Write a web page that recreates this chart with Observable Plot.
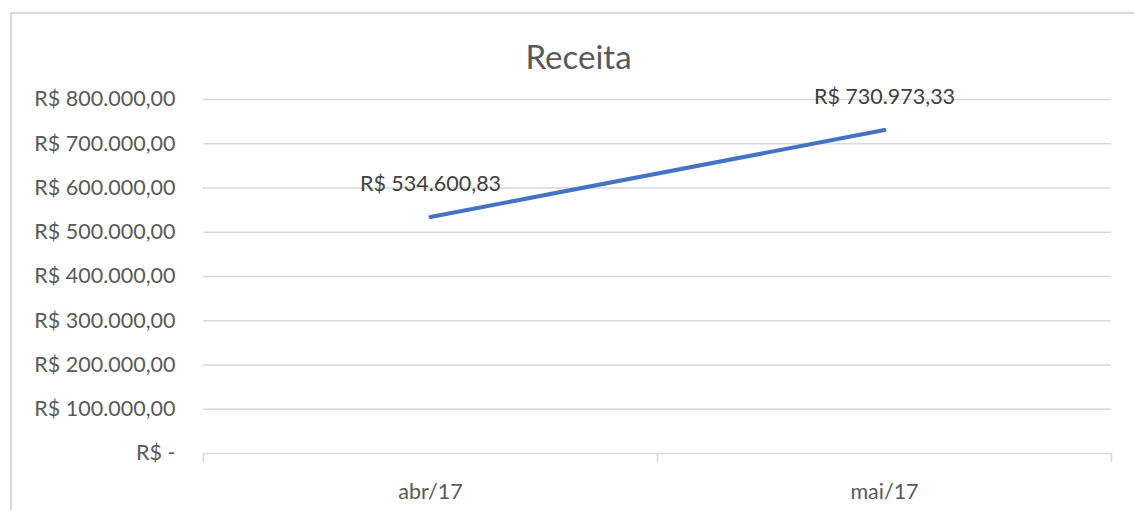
<!DOCTYPE html>
<html><head><meta charset="utf-8">
<script src="https://cdn.jsdelivr.net/npm/d3@7"></script>
<script src="https://cdn.jsdelivr.net/npm/@observablehq/plot@0.6"></script>
<style>
body{margin:0;background:#fff;}
#wrap{position:relative;width:1134px;height:510px;overflow:hidden;background:#fff;}
#border{position:absolute;left:10px;top:12px;right:-5px;bottom:-5px;border-left:2px solid #d9d9d9;border-top:2px solid #d9d9d9;}
#chart{position:absolute;left:0;top:0;}
</style></head><body>
<div id="wrap"><div id="border"></div><div id="chart"></div></div>
<script>
const title = "Receita";
const months = ["abr/17", "mai/17"];
const receita = [534600.83, 730973.33];
const yTicks = [0, 100000, 200000, 300000, 400000, 500000, 600000, 700000, 800000];

const data = months.map((m, i) => ({month: m, pos: i + 0.5, value: receita[i]}));
const loc = d3.formatLocale({decimal: ",", thousands: ".", grouping: [3], currency: ["R$ ", ""]});
const fmt = loc.format("$,.2f");
const yFmt = v => v === 0 ? "R$ -" : fmt(v);

const chart = Plot.plot({
  width: 1134, height: 510,
  marginLeft: 203, marginRight: 23, marginTop: 99, marginBottom: 57,
  style: {fontFamily: "Lato, 'Liberation Sans', sans-serif", fontSize: "21px", color: "#595959", background: "transparent", overflow: "visible"},
  x: {type: "linear", domain: [0, months.length], axis: null},
  y: {domain: [0, 800000], axis: null},
  marks: [
    Plot.gridY(yTicks.filter(d => d > 0), {stroke: "#d9d9d9", strokeOpacity: 1, strokeWidth: 1.5}),
    Plot.ruleY([0], {stroke: "#d9d9d9", strokeWidth: 1.5}),
    Plot.axisY(yTicks, {tickSize: 0, tickPadding: 28, tickFormat: yFmt, fontSize: 21.5, fill: "#595959", label: null}),
    Plot.axisX(d3.range(months.length + 1), {tickSize: 9, tickFormat: () => "", stroke: "#d9d9d9", strokeWidth: 1.5, label: null}),
    Plot.axisX(data.map(d => d.pos), {tickSize: 0, tickPadding: 30, tickFormat: d => months[Math.floor(d)], fontSize: 21.5, fill: "#595959", label: null}),
    Plot.line(data, {x: "pos", y: "value", stroke: "#4472C4", strokeWidth: 4, strokeLinecap: "round"}),
    Plot.text(data, {x: "pos", y: "value", text: d => fmt(d.value), dy: -33, fill: "#404040", fontSize: 21.5}),
    Plot.text([title], {frameAnchor: "top", dx: -79, dy: -54, fontSize: 33, fill: "#595959", text: d => d})
  ]
});
document.getElementById("chart").appendChild(chart);
</script>
</body></html>
